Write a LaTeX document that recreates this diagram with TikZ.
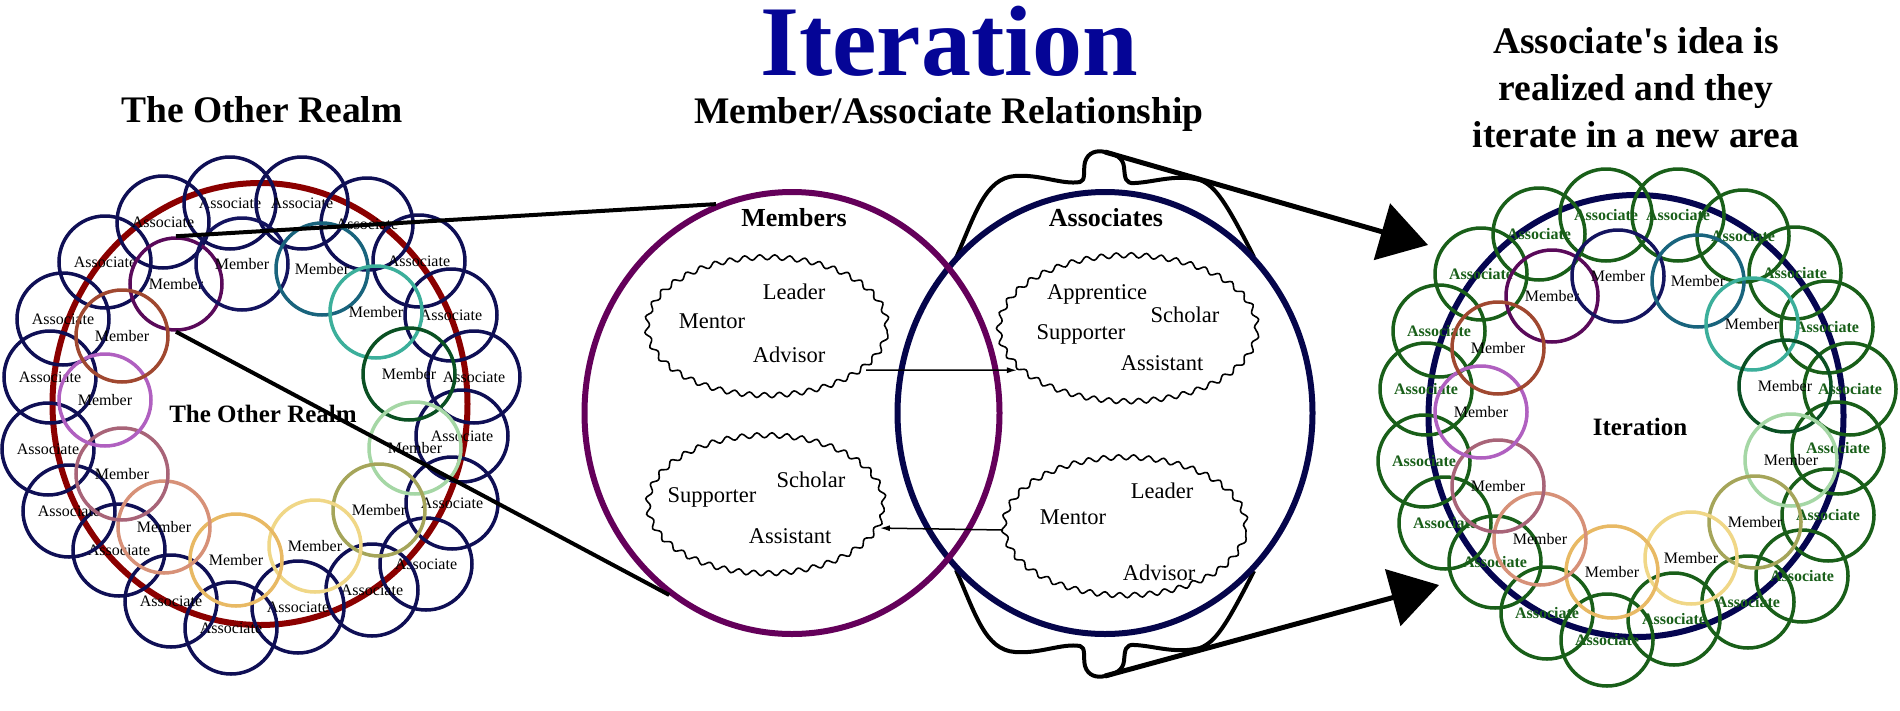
\documentclass[tikz,border=0pt]{standalone}
\usepackage{fontspec}
\setmainfont{Liberation Serif}
\usetikzlibrary{shapes.geometric,decorations.pathmorphing,arrows.meta}

\definecolor{ringred}{RGB}{139,0,0}
\definecolor{assocnavy}{RGB}{15,15,85}
\definecolor{ringnavy}{RGB}{5,5,80}
\definecolor{assocgreen}{RGB}{25,95,25}
\definecolor{memberspurple}{RGB}{100,0,90}
\definecolor{assocsnavy}{RGB}{5,5,75}
\definecolor{titleblue}{RGB}{5,5,150}
\definecolor{mA}{RGB}{90,10,90}
\definecolor{mB}{RGB}{20,20,95}
\definecolor{mC}{RGB}{25,100,125}
\definecolor{mD}{RGB}{60,175,155}
\definecolor{mE}{RGB}{10,80,35}
\definecolor{mF}{RGB}{165,215,165}
\definecolor{mG}{RGB}{165,165,90}
\definecolor{mH}{RGB}{240,215,135}
\definecolor{mI}{RGB}{232,185,100}
\definecolor{mJ}{RGB}{215,145,120}
\definecolor{mK}{RGB}{168,100,120}
\definecolor{mL}{RGB}{176,96,192}
\definecolor{mM}{RGB}{160,72,48}

\tikzset{
  smallcirc/.style={circle, minimum size=92pt, inner sep=0pt, line width=3.5pt,
    font=\fontsize{16}{18}\selectfont},
  assocL/.style={smallcirc, draw=assocnavy},
  assocR/.style={smallcirc, draw=assocgreen, text=assocgreen,
    font=\fontsize{16}{18}\selectfont\bfseries},
  memb/.style={smallcirc, draw=#1},
  bigring/.style={ellipse, minimum width=415pt, minimum height=442pt,
    inner sep=0pt, line width=6pt, draw=#1},
  cloudbox/.style={ellipse, draw, line width=1.6pt, inner sep=0pt, decorate,
    decoration={snake, amplitude=2.5pt, segment length=15pt}},
  cloudtext/.style={font=\fontsize{22.5}{26}\selectfont, anchor=base, inner sep=0pt},
  heading/.style={font=\fontsize{37.5}{47}\selectfont\bfseries, anchor=base, inner sep=0pt},
  innerlabel/.style={font=\fontsize{25}{28}\selectfont\bfseries, anchor=base, inner sep=0pt},
  venntitle/.style={font=\fontsize{26}{30}\selectfont\bfseries, anchor=base, inner sep=0pt},
  zoomline/.style={line width=4pt},
  outlinestyle/.style={line width=4pt, line join=round},
  bigarrow/.style={line width=5pt, -{Triangle[length=48pt,width=58pt]}},
  smallarrow/.style={line width=1.5pt, -{Latex[length=10pt,width=6pt]}}
}

\begin{document}
\begin{tikzpicture}[x=1pt,y=-1pt]
\fill[white] (0,0) rectangle (1900,710);
\useasboundingbox (0,0) rectangle (1900,710);

% titles
\node[font=\fontsize{100}{110}\selectfont\bfseries, text=titleblue, anchor=base, inner sep=0pt]
  (title) at (949,75) {Iteration};
\node[heading] (subtitle) at (949,123) {Member/Associate Relationship};
\node[heading] (lefttitle) at (262,122) {The Other Realm};
\node[heading] (rtitleA) at (1636,53) {Associate\textquotesingle s idea is};
\node[heading] (rtitleB) at (1636,100) {realized and they};
\node[heading] (rtitleC) at (1636,147) {iterate in a new area};

% big rings
\node[bigring=ringred] (LRing) at (260,404) {};
\node[bigring=ringnavy] (RRing) at (1636,416) {};

% associates
\foreach \x/\y [count=\i] in {230/203, 302/203, 367/224, 419/261, 451/315, 474/377,
  462/436, 452/503, 426/564, 372/590, 298/607, 231/628, 171/601, 119/550, 69/511,
  48/449, 50/377, 63/319, 105/262, 163/222} {
  \node[assocL] (LA\i) at (\x,\y) {Associate};
  \node[assocR] (RA\i) at ({\x+1376},{\y+12}) {Associate};
}

% members
\foreach \x/\y/\c [count=\i] in {176/284/mA, 242/264/mB, 322/269/mC, 376/312/mD,
  409/374/mE, 415/448/mF, 379/510/mG, 315/546/mH, 236/560/mI, 164/527/mJ,
  122/474/mK, 105/400/mL, 122/336/mM} {
  \node[memb=\c] (LM\i) at (\x,\y) {Member};
  \node[memb=\c] (RM\i) at ({\x+1376},{\y+12}) {Member};
}

\node[innerlabel] (lrealm) at (263,422) {The Other Realm};
\node[innerlabel] (riter) at (1640,435) {Iteration};

% outline around associates (top and mirrored bottom)
\foreach \s in {1,-1} {
  \begin{scope}[shift={(0,{414*(1-\s)})}, yscale=\s]
    \draw[outlinestyle] (956,258) .. controls (975,215) and (985,178) .. (1015,176)
      .. controls (1040,174) and (1062,185) .. (1080,182)
      .. controls (1086,181) and (1083,170) .. (1085,162)
      .. controls (1088,152) and (1097,150) .. (1105,152)
      .. controls (1116,154) and (1123,158) .. (1124,167)
      .. controls (1125,178) and (1125,184) .. (1135,183)
      .. controls (1155,182) and (1175,174) .. (1200,180)
      .. controls (1215,186) and (1225,200) .. (1254,257);
  \end{scope}
}

% Venn
\node[bigring=assocsnavy] (Asc) at (1105,413) {};
\node[bigring=memberspurple] (Mem) at (792,413) {};
\node[venntitle] (memlabel) at (794,226) {Members};
\node[venntitle] (asclabel) at (1106,226) {Associates};

% clouds
\node[cloudbox, minimum width=240pt, minimum height=138pt] (c1) at (767,330) {};
\node[cloudbox, minimum width=258pt, minimum height=146pt] (c2) at (1128,332) {};
\node[cloudbox, minimum width=236pt, minimum height=138pt] (c3) at (766,508) {};
\node[cloudbox, minimum width=242pt, minimum height=138pt] (c4) at (1125,530) {};

\node[cloudtext] (c1a) at (794,299) {Leader};
\node[cloudtext] (c1b) at (712,328) {Mentor};
\node[cloudtext] (c1c) at (789,362) {Advisor};
\node[cloudtext] (c2a) at (1097,299) {Apprentice};
\node[cloudtext] (c2b) at (1185,322) {Scholar};
\node[cloudtext] (c2c) at (1081,339) {Supporter};
\node[cloudtext] (c2d) at (1162,370) {Assistant};
\node[cloudtext] (c3a) at (811,487) {Scholar};
\node[cloudtext] (c3b) at (712,502) {Supporter};
\node[cloudtext] (c3c) at (790,543) {Assistant};
\node[cloudtext] (c4a) at (1162,498) {Leader};
\node[cloudtext] (c4b) at (1073,524) {Mentor};
\node[cloudtext] (c4c) at (1159,580) {Advisor};

\draw[smallarrow] (c1.-22) -- (c2.199);
\draw[smallarrow] (c4.180) -- (c3.-10);

% zoom lines from the left ring to the Members circle
\draw[zoomline] (LM1.north) -- (Mem.110);
\draw[zoomline] (LM1.south) -- (Mem.236);

% arrows to the right ring
\coordinate (peakT) at (1105,152);
\coordinate (peakB) at (1105,676);
\coordinate (tipT) at (1428,245);
\coordinate (tipB) at (1439,585);
\draw[bigarrow] (peakT) -- (tipT);
\draw[bigarrow] (peakB) -- (tipB);
\end{tikzpicture}
\end{document}
